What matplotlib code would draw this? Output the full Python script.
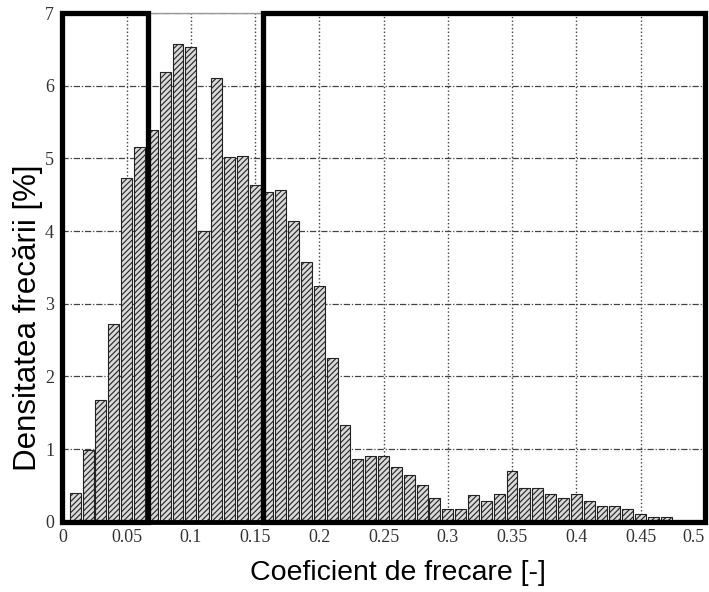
import numpy as np
import matplotlib.pyplot as plt
from matplotlib.patches import Rectangle

# bin centres (friction coefficient) and density [%]
coef = np.round(np.arange(0.01, 0.48, 0.01), 2)
densitate = [0.39, 0.99, 1.67, 2.72, 4.73, 5.16, 5.39, 6.19, 6.58, 6.53,
             4.00, 6.11, 5.02, 5.04, 4.63, 4.54, 4.57, 4.14, 3.58, 3.25,
             2.25, 1.33, 0.86, 0.90, 0.90, 0.75, 0.64, 0.50, 0.32, 0.18,
             0.18, 0.37, 0.28, 0.38, 0.70, 0.46, 0.46, 0.38, 0.32, 0.38,
             0.28, 0.22, 0.22, 0.17, 0.10, 0.07, 0.07]
xtick_labels = ['0', '0.05', '0.1', '0.15', '0.2', '0.25', '0.3', '0.35',
                '0.4', '0.45', '0.5']

# highlighted zones (x start, x end)
zone1 = (0.0, 0.067)
zone2 = (0.156, 0.5)

plt.rcParams['hatch.color'] = '#555555'
plt.rcParams['hatch.linewidth'] = 0.8

fig = plt.figure(figsize=(7.09, 5.92), dpi=100)
ax = fig.add_axes([0.088, 0.1187, 0.906, 0.859])

ax.bar(coef, densitate, width=0.0085, color='#d9d9d9', edgecolor='#222222',
       linewidth=0.8, hatch='//////', zorder=2)

ax.set_xlim(0, 0.5)
ax.set_ylim(0, 7)
ax.set_xticks(np.arange(0, 0.51, 0.05))
ax.set_xticklabels(xtick_labels)
ax.set_yticks(range(8))

ax.xaxis.grid(True, linestyle=':', color='#444444', linewidth=1.0, zorder=0)
ax.yaxis.grid(True, linestyle=(0, (5, 1.5, 1, 1.5)), color='#444444', linewidth=0.9, zorder=0)
ax.set_axisbelow(True)

ax.tick_params(axis='x', length=0, pad=5, labelsize=13, labelcolor='#333333')
ax.tick_params(axis='y', length=0, pad=6, labelsize=13, labelcolor='#333333')
for lab in ax.get_xticklabels() + ax.get_yticklabels():
    lab.set_family('Liberation Serif')
ax.get_xticklabels()[-1].set_horizontalalignment('right')

for s in ['top', 'right', 'left']:
    ax.spines[s].set_color('#999999')
    ax.spines[s].set_linewidth(1.0)
ax.spines['bottom'].set_linewidth(3.5)
ax.spines['bottom'].set_color('black')

for x0, x1 in [zone1, zone2]:
    ax.add_patch(Rectangle((x0, 0), x1 - x0, 7, fill=False, edgecolor='black',
                           linewidth=3.8, zorder=5, clip_on=False))

fig.text(398 / 709, 1 - 573 / 592, 'Coeficient de frecare [-]',
         family='Liberation Sans', fontsize=20.5, ha='center', va='center')
fig.text(28 / 709, 1 - 318 / 592, 'Densitatea frecării [%]',
         family='Liberation Sans', fontsize=22.5, rotation=90,
         ha='center', va='center')

fig.savefig('out.png', dpi=100)
